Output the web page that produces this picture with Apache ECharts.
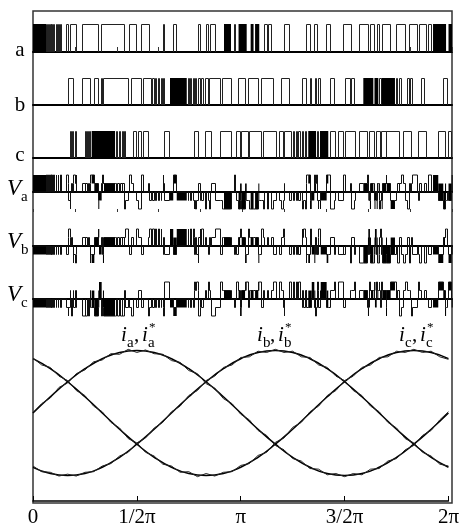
<!DOCTYPE html>
<html><head><meta charset="utf-8">
<script src="https://cdn.jsdelivr.net/npm/echarts/dist/echarts.min.js"></script>
<style>html,body{margin:0;padding:0;background:#fff}#c{width:462px;height:528px}</style>
</head><body><div id="c"></div>
<script>
// ---------- data (angles in degrees, 0..360 = 0..2π) ----------
const rowLabels = ['a', 'b', 'c'];
const voltageSubs = ['a', 'b', 'c'];
const tickLabels = ['0', '1/2π', 'π', '3/2π', '2π'];

// switching signal a: [on, off] pulse edges, and densely switched intervals
const aPulses = [[11.6,12.5],[13.3,14.0],[14.9,15.5],[16.3,17.0],[18.0,18.6],[19.8,20.4],[21.5,22.1],[23.6,24.2],[29.2,30.9],[32.6,37.8],[42.7,56.1],[59.0,79.0],[83.3,89.1],[93.4,100.5],[112.0,113.4],[120.5,123.5],[142.0,143.5],[149.2,150.6],[152.7,156.4],[172.7,174.4],[199.3,201.3],[202.2,205.1],[215.9,220.8],[234.6,238.0],[241.7,244.3],[252.3,255.2],[267.2,273.8],[280.8,288.1],[290.4,293.3],[295.8,297.5],[300.1,307.3],[312.5,320.2],[323.3,330.5],[331.7,338.3],[339.8,342.8]];
const aDense = [[0,11.2],[164.1,170.1],[176.6,183.6],[187.0,189.5],[190.8,194.4],[343.7,354.9],[357.0,360]];

const bPulses = [[30.3,34.6],[42.7,49.0],[52.7,56.7],[59.0,60.1],[61.0,81.9],[84.8,93.4],[94.8,102.0],[103.1,104.0],[105.3,106.1],[107.4,108.7],[110.0,110.8],[112.1,113.4],[133.2,134.0],[135.3,136.6],[137.9,138.8],[140.0,140.9],[142.2,144.3],[145.2,146.1],[148.6,150.6],[151.6,160.7],[162.4,170.7],[176.4,182.2],[185.0,193.6],[196.5,206.5],[213.7,220.8],[231.4,235.2],[238.0,239.5],[242.3,243.8],[245.1,247.2],[255.2,258.9],[268.1,272.4],[273.8,275.8],[298.1,299.0],[312.5,313.6],[314.9,316.8],[321.6,323.3],[324.4,326.2],[334.0,336.8],[352.5,356.0]];
const bDense = [[117.7,132.1],[283.8,292.4],[293.4,296.7],[299.6,311.0]];

const cPulses = [[31.8,32.9],[33.9,35.2],[36.1,37.4],[44.7,45.5],[46.7,47.7],[48.5,49.8],[71.7,72.6],[73.9,75.2],[76.5,77.3],[78.6,79.9],[86.2,89.1],[90.5,93.4],[94.8,99.1],[113.4,117.3],[138.6,142.2],[148.6,153.5],[160.7,170.7],[175.0,177.9],[179.3,185.0],[186.4,196.5],[197.9,209.4],[212.2,215.1],[216.5,221.7],[223.8,224.7],[226.0,227.3],[228.5,229.8],[231.5,232.8],[234.1,235.4],[244.4,245.3],[255.2,259.5],[262.3,266.6],[268.1,276.7],[280.8,287.8],[289.5,293.8],[295.3,298.2],[299.6,303.3],[303.9,315.3],[318.2,325.4],[331.0,338.3],[348.2,354.0],[356.8,359.7]];
const cDense = [[50.4,70.5],[236.5,243.2],[246.6,253.7]];

// reference currents every 15°, measured currents every 7.5° (per-unit)
const iaRef = [0,.26,.5,.71,.87,.97,1,.97,.87,.71,.5,.26,0,-.26,-.5,-.71,-.87,-.97,-1,-.97,-.87,-.71,-.5,-.26,0];
const ibRef = [-.87,-.97,-1,-.97,-.87,-.71,-.5,-.26,0,.26,.5,.71,.87,.97,1,.97,.87,.71,.5,.26,0,-.26,-.5,-.71,-.87];
const icRef = [.87,.71,.5,.26,0,-.26,-.5,-.71,-.87,-.97,-1,-.97,-.87,-.71,-.5,-.26,0,.26,.5,.71,.87,.97,1,.97,.87];
const ia = [0.01,0.15,0.24,0.41,0.48,0.63,0.69,0.82,0.85,0.95,0.94,1.02,0.97,1.01,0.95,0.94,0.84,0.81,0.68,0.63,0.47,0.40,0.23,0.15,-0.02,-0.11,-0.28,-0.36,-0.52,-0.59,-0.73,-0.77,-0.89,-0.90,-0.99,-0.97,-1.02,-0.97,-0.99,-0.90,-0.89,-0.77,-0.73,-0.59,-0.52,-0.36,-0.28,-0.11,0.02];
const ib = [-0.85,-0.94,-0.95,-1.01,-0.98,-1.01,-0.95,-0.94,-0.85,-0.81,-0.69,-0.63,-0.48,-0.40,-0.24,-0.15,0.02,0.11,0.28,0.36,0.52,0.59,0.73,0.77,0.89,0.90,0.99,0.97,1.02,0.97,0.99,0.90,0.89,0.77,0.73,0.59,0.52,0.36,0.28,0.11,0.02,-0.15,-0.24,-0.41,-0.48,-0.63,-0.69,-0.82,-0.85];
const ic = [0.88,0.77,0.73,0.59,0.52,0.36,0.28,0.11,0.02,-0.15,-0.24,-0.41,-0.48,-0.63,-0.69,-0.82,-0.85,-0.95,-0.94,-1.02,-0.97,-1.01,-0.95,-0.94,-0.84,-0.81,-0.68,-0.63,-0.47,-0.40,-0.23,-0.15,0.02,0.11,0.28,0.36,0.52,0.59,0.73,0.77,0.89,0.90,0.99,0.97,1.02,0.97,0.99,0.90,0.86];

// ---------- build ----------
const phases = [{p:aPulses,d:aDense},{p:bPulses,d:bDense},{p:cPulses,d:cDense}];
function stateRange(ph, t){
  for (const d of ph.d) if (t>d[0] && t<d[1]) return [0,1];
  for (const q of ph.p) if (t>q[0] && t<q[1]) return [1,1];
  return [0,0];
}
const brk=[0,360];
phases.forEach(ph=>{ph.p.forEach(q=>brk.push(q[0],q[1])); ph.d.forEach(q=>brk.push(q[0],q[1]));});
const bp = Array.from(new Set(brk)).sort((x,y)=>x-y);
// phase voltage (units of Vdc/3) from the three switching states
function phaseVoltage(k){
  const segs=[], fill=[]; const o=[0,1,2].filter(j=>j!==k);
  let prev=0;
  for (let i=0;i<bp.length-1;i++){
    const t0=bp[i], t1=bp[i+1]; const m=(t0+t1)/2;
    const s=phases.map(ph=>stateRange(ph,m));
    const lo=2*s[k][0]-s[o[0]][1]-s[o[1]][1];
    const hi=2*s[k][1]-s[o[0]][0]-s[o[1]][0];
    const base=2*s[k][0]-s[o[0]][0]-s[o[1]][0];
    segs.push([t0,t1,prev,base]);
    prev=base;
    if (hi>lo) fill.push([t0,t1,lo,hi]);
  }
  return {segs, fill};
}
const snap = v => Math.round(v - 0.5) + 0.5;
function renderRect(params, api){
  const p1=api.coord([api.value(0), api.value(3)]), p2=api.coord([api.value(1), api.value(2)]);
  return {type:'rect', shape:{x:p1[0], y:p1[1], width:Math.max(p2[0]-p1[0],1), height:p2[1]-p1[1]}, style:{fill:'#000'}};
}
function renderPulse(params, api){
  const s=api.coord([api.value(0),1]), e=api.coord([api.value(1),0]);
  const x0=snap(s[0]), x1=Math.max(snap(e[0]), x0+1);
  return {type:'polyline', shape:{points:[[x0,e[1]],[x0,s[1]+0.5],[x1,s[1]+0.5],[x1,e[1]]]},
    style:{stroke:'#222', lineWidth:1, fill:null}};
}
function renderSeg(params, api){
  const a=api.coord([api.value(0), api.value(2)]), b=api.coord([api.value(0), api.value(3)]), c=api.coord([api.value(1), api.value(3)]);
  const x0=snap(a[0]), x1=snap(c[0]);
  return {type:'polyline', shape:{points:[[x0,a[1]],[x0,b[1]],[x1,c[1]]]}, style:{stroke:'#111', lineWidth:1, fill:null}};
}

const L=33, W=419;
const FONT='"Liberation Serif", "Times New Roman", serif';
const grid=[
  {left:L, width:W, top:11, height:492, show:true, borderColor:'#333', borderWidth:1.5, backgroundColor:'transparent'},
  {left:L, width:W, top:24, height:28},
  {left:L, width:W, top:78, height:27},
  {left:L, width:W, top:131, height:27},
  {left:L, width:W, top:175, height:34},
  {left:L, width:W, top:229, height:34},
  {left:L, width:W, top:282, height:34},
  {left:L, width:W, top:320, height:183}
];
const xAxis=[{type:'value', gridIndex:0, min:0, max:360, show:false}];
const yAxis=[{type:'value', gridIndex:0, min:0, max:1, show:false}];
const series=[];
// switching rows
for (let r=0;r<3;r++){
  const gi=r+1;
  xAxis.push({type:'value', gridIndex:gi, min:0, max:360, interval:36,
    axisLine:{show:true, onZero:false, lineStyle:{color:'#000', width:2}},
    axisTick:{show:r===0, inside:true, length:5, lineStyle:{color:'#333', width:1}},
    axisLabel:{show:false}, splitLine:{show:false}});
  yAxis.push({type:'value', gridIndex:gi, min:0, max:1, show:false});
  const ai=xAxis.length-1, yi=yAxis.length-1;
  series.push({type:'custom', xAxisIndex:ai, yAxisIndex:yi, renderItem:renderPulse, data:phases[r].p, encode:{x:[0,1]}, animation:false, clip:false});
  series.push({type:'custom', xAxisIndex:ai, yAxisIndex:yi, renderItem:renderRect, data:phases[r].d.map(d=>[d[0],d[1],0,1]), encode:{x:[0,1], y:[2,3]}, animation:false});
}
// voltage rows
for (let k=0;k<3;k++){
  const gi=k+4;
  const v=phaseVoltage(k);
  xAxis.push({type:'value', gridIndex:gi, min:0, max:360,
    axisLine:{show:true, onZero:true, lineStyle:{color:'#000', width:2}},
    axisTick:{show:false}, axisLabel:{show:false}, splitLine:{show:false}});
  yAxis.push({type:'value', gridIndex:gi, min:-2, max:2, show:false});
  const ai=xAxis.length-1, yi=yAxis.length-1;
  series.push({type:'custom', xAxisIndex:ai, yAxisIndex:yi, renderItem:renderRect, data:v.fill, encode:{x:[0,1], y:[2,3]}, animation:false});
  series.push({type:'custom', xAxisIndex:ai, yAxisIndex:yi, renderItem:renderSeg, data:v.segs, encode:{x:[0,1], y:[2,3]}, animation:false, clip:false});
  if (k===0){
    xAxis.push({type:'value', gridIndex:gi, min:0, max:360, interval:36, position:'bottom',
      axisLine:{show:false, onZero:false}, axisTick:{show:true, inside:false, length:3, lineStyle:{color:'#333'}},
      axisLabel:{show:false}, splitLine:{show:false}});
  }
}
// currents
xAxis.push({type:'value', gridIndex:7, min:0, max:360, interval:90,
  axisLine:{show:true, onZero:false, lineStyle:{color:'#000', width:1.5}},
  axisTick:{show:true, inside:true, length:5, lineStyle:{color:'#000', width:1}},
  axisLabel:{show:true, margin:6, color:'#000', fontSize:21, fontFamily:FONT, showMinLabel:true, showMaxLabel:true,
    formatter:(v)=>tickLabels[Math.round(v/90)]},
  splitLine:{show:false}});
yAxis.push({type:'value', gridIndex:7, min:-1.41, max:1.49, show:false});
const cx=xAxis.length-1, cy=yAxis.length-1;
[iaRef, ibRef, icRef].forEach(arr=>series.push({type:'line', xAxisIndex:cx, yAxisIndex:cy, smooth:true, showSymbol:false, animation:false,
  data:arr.map((y,i)=>[i*15,y]), lineStyle:{color:'#000', width:1.5}}));
[ia, ib, ic].forEach(arr=>series.push({type:'line', xAxisIndex:cx, yAxisIndex:cy, showSymbol:false, animation:false,
  data:arr.map((y,i)=>[i*7.5,y]), lineStyle:{color:'#222', width:1}}));

// text labels
const graphic=[];
function txt(x,y,text,size,italic,align){
  graphic.push({type:'text', x:x, y:y, silent:true, style:{text:text, font:(italic?'italic ':'')+size+'px '+FONT, fill:'#000',
    align:align||'left', verticalAlign:'middle', textAlign:align||'left', textVerticalAlign:'middle'}});
}
const rowMid=[50,105,155];
rowLabels.forEach((t,i)=>txt(20,rowMid[i],t,21,false,'center'));
const vMid=[189,242,295];
voltageSubs.forEach((t,i)=>{ txt(7,vMid[i],'V',23,true); txt(21,vMid[i]+8,t,15,false); });
const curX=[121,257,399];
voltageSubs.forEach((t,i)=>{
  const x0=curX[i];
  txt(x0,335,'i',21,true); txt(x0+6,343,t,15,false); txt(x0+13,335,',',21,false);
  txt(x0+21,335,'i',21,true); txt(x0+27,343,t,15,false); txt(x0+28,328,'*',13,false);
});

const chart=echarts.init(document.getElementById('c'), null, {renderer:'canvas'});
chart.setOption({animation:false, backgroundColor:'#fff', grid, xAxis, yAxis, series, graphic});
</script></body></html>
